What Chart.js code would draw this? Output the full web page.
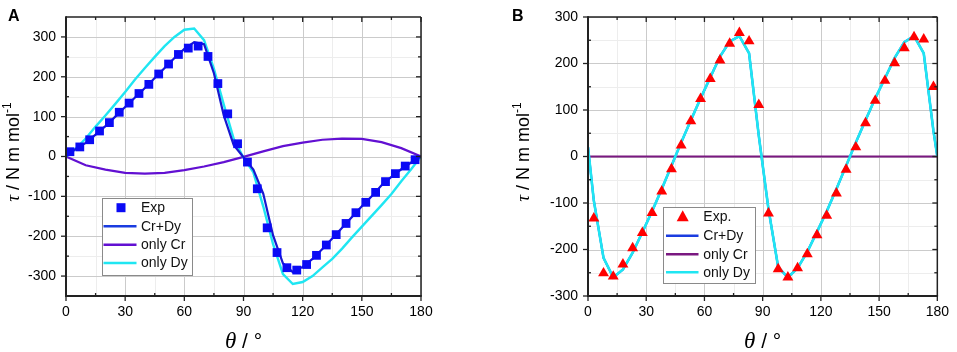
<!DOCTYPE html>
<html><head><meta charset="utf-8">
<script src="https://cdn.jsdelivr.net/npm/chart.js@4.4.1/dist/chart.umd.min.js"></script>
<style>
html,body{margin:0;padding:0;background:#fff;}
#wrap{position:relative;width:957px;height:352px;overflow:hidden;background:#fff;}
#ca{position:absolute;left:0;top:0;width:478px;height:352px;}
#cb{position:absolute;left:478px;top:0;width:479px;height:352px;}
</style></head><body>
<div id="wrap"><canvas id="ca" width="478" height="352"></canvas><canvas id="cb" width="479" height="352"></canvas></div>
<script>
// ---------- Panel A data ----------
const expA_theta = [2,7,12,17,22,27,32,37,42,47,52,57,62,67,72,77,82,87,92,97,102,107,112,117,122,127,132,137,142,147,152,157,162,167,172,177];
const expA_tau   = [12,24,42,64,85,111,134,158,181,207,232,256,272,277,251,183,107,32,-14,-81,-179,-241,-279,-285,-271,-248,-222,-196,-168,-141,-115,-90,-63,-43,-24,-8];
const fitA_theta = [0,5,10,15,20,25,30,35,40,45,50,55,60,65,70,75,80,85,90,95,100,105,110,115,120,125,130,135,140,145,150,155,160,165,170,175,180];
const crDyA_tau  = [0,19,34,55,76,100,124,148,172,197,222,247,270,287,282,209,103,29,-2,-33,-93,-198,-268,-290,-277,-257,-232,-206,-179,-152,-125,-100,-72,-51,-32,-15,0];
const onlyDyA_tau= [0,20,45,75,103,132,162,193,222,250,277,300,318,321,292,220,130,45,-3,-40,-125,-220,-295,-320,-315,-300,-278,-257,-231,-203,-176,-149,-122,-94,-62,-32,0];
const onlyCrA_theta = [0,10,20,30,40,50,60,70,80,90,100,110,120,130,140,150,160,170,180];
const onlyCrA_tau   = [0,-22,-33,-41,-43,-41,-34,-25,-14,-1,13,26,35,42,45,44,36,21,0];

// ---------- Panel B data ----------
const expB_theta = [3,8,13,18,23,28,33,38,43,48,53,58,63,68,73,78,83,88,93,98,103,108,113,118,123,128,133,138,143,148,153,158,163,168,173,178];
const expB_tau   = [-133,-251,-258,-232,-197,-164,-121,-75,-27,24,76,124,167,207,243,266,248,111,-122,-242,-260,-240,-210,-169,-127,-79,-28,20,72,120,163,201,233,257,252,150];
const fitB_theta = [0,3,8,13,18,23,28,33,38,43,48,53,58,63,68,73,78,83,88,93,98,103,108,113,118,123,128,133,138,143,148,153,158,163,168,173,178,180];
const crDyB_tau  = [20,-95,-218,-260,-243,-207,-163,-118,-70,-20,30,78,125,170,215,247,259,222,45,-113,-238,-260,-240,-205,-162,-118,-70,-20,30,78,125,168,212,246,259,222,55,0];
const onlyDyB_tau= [20,-95,-218,-260,-243,-207,-163,-118,-70,-20,30,78,125,170,215,247,259,222,45,-113,-238,-260,-240,-205,-162,-118,-70,-20,30,78,125,168,212,246,259,222,55,0];
const onlyCrB_theta = [0,180];
const onlyCrB_tau   = [0,0];

// ---------- ticks ----------
const xTickLabels = [0,30,60,90,120,150,180];
const xMinorTicks = [15,45,75,105,135,165];
const yTickLabelsA = [-300,-200,-100,0,100,200,300];
const yMinorA = [-250,-150,-50,50,150,250];
const yTickLabelsB = [-300,-200,-100,0,100,200,300];
const yMinorB = [-250,-150,-50,50,150,250];

const SANS = "'Liberation Sans', Arial, Helvetica, sans-serif";
const SERIF = "'Liberation Serif', 'Times New Roman', serif";
Chart.defaults.font.family = SANS;
Chart.defaults.color = '#000';

const pts = (xs, ys) => xs.map((x, i) => ({x: x, y: ys[i]}));

function makePlugin(conf) {
  function ln(ctx, x1, y1, x2, y2) { ctx.beginPath(); ctx.moveTo(x1, y1); ctx.lineTo(x2, y2); ctx.stroke(); }
  return {
    id: 'frame_' + conf.letter,
    beforeDatasetsDraw(chart) {
      const {ctx, chartArea: a, scales} = chart;
      const x = scales.x, y = scales.y;
      ctx.save();
      ctx.lineWidth = 1;
      ctx.strokeStyle = '#ededed';
      xMinorTicks.forEach(v => { const p = Math.round(x.getPixelForValue(v)) + 0.5; ln(ctx, p, a.top, p, a.bottom); });
      conf.yMinor.forEach(v => { const p = Math.round(y.getPixelForValue(v)) + 0.5; ln(ctx, a.left, p, a.right, p); });
      ctx.strokeStyle = '#cbcbcb';
      xTickLabels.forEach(v => { const p = Math.round(x.getPixelForValue(v)) + 0.5; ln(ctx, p, a.top, p, a.bottom); });
      conf.yMajor.forEach(v => { const p = Math.round(y.getPixelForValue(v)) + 0.5; ln(ctx, a.left, p, a.right, p); });
      ctx.restore();
    },
    afterDatasetsDraw(chart) {
      const {ctx, chartArea: a, scales} = chart;
      const x = scales.x, y = scales.y;
      ctx.save();
      ctx.strokeStyle = '#222';
      ctx.lineWidth = 1.5;
      ln(ctx, a.left, a.top, a.right, a.top);
      ln(ctx, a.right, a.top, a.right, a.bottom);
      ctx.lineWidth = 2;
      ln(ctx, a.left, a.top - 0.75, a.left, a.bottom + 1);
      ln(ctx, a.left - 1, a.bottom, a.right + 0.75, a.bottom);
      ctx.lineWidth = 1.3;
      xTickLabels.forEach(v => {
        const p = x.getPixelForValue(v);
        ln(ctx, p, a.bottom, p, a.bottom + 5);
        ln(ctx, p, a.top, p, a.top + 5);
      });
      xMinorTicks.forEach(v => {
        const p = x.getPixelForValue(v);
        ln(ctx, p, a.bottom, p, a.bottom - 3);
        ln(ctx, p, a.top, p, a.top + 3);
      });
      conf.yMajor.forEach(v => {
        const p = y.getPixelForValue(v);
        ln(ctx, a.left, p, a.left - 5, p);
        ln(ctx, a.right, p, a.right - 5, p);
      });
      conf.yMinor.forEach(v => {
        const p = y.getPixelForValue(v);
        ln(ctx, a.left, p, a.left + 3, p);
        ln(ctx, a.right, p, a.right - 3, p);
      });
      ctx.restore();
    },
    afterDraw(chart) {
      const ctx = chart.ctx;
      ctx.save();
      ctx.fillStyle = '#000';
      ctx.font = 'bold 16px ' + SANS;
      ctx.textBaseline = 'alphabetic';
      ctx.textAlign = 'left';
      ctx.fillText(conf.letter, conf.letterX, 21);
      // y title
      ctx.save();
      ctx.translate(conf.yTitleX, 152);
      ctx.rotate(-Math.PI / 2);
      const f1 = 'italic 19px ' + SERIF, f2 = '18px ' + SANS, f3 = '12px ' + SANS;
      ctx.font = f1; const w1 = ctx.measureText('\u03c4').width;
      ctx.font = f2; const w2 = ctx.measureText(' / N m mol').width;
      ctx.font = f3; const w3 = ctx.measureText('-1').width;
      let sx = -(w1 + w2 + w3) / 2;
      ctx.font = f1; ctx.fillText('\u03c4', sx, 6.5); sx += w1;
      ctx.font = f2; ctx.fillText(' / N m mol', sx, 6.5); sx += w2;
      ctx.font = f3; ctx.fillText('-1', sx, -1);
      ctx.restore();
      // x title
      const a = chart.chartArea;
      const cx = (a.left + a.right) / 2;
      const g1 = 'italic 23px ' + SERIF, g2 = '21px ' + SANS;
      ctx.font = g1; const v1 = ctx.measureText('\u03b8').width;
      ctx.font = g2; const v2 = ctx.measureText(' / \u00b0').width;
      let tx = cx - (v1 + v2) / 2;
      ctx.font = g1; ctx.fillText('\u03b8', tx, 348); tx += v1;
      ctx.font = g2; ctx.fillText(' / \u00b0', tx, 348);
      // legend
      const L = conf.legend;
      ctx.fillStyle = '#fff';
      ctx.fillRect(L.x, L.y, L.w, L.h);
      ctx.strokeStyle = '#8a8a8a';
      ctx.lineWidth = 1;
      ctx.strokeRect(L.x + 0.5, L.y + 0.5, L.w, L.h);
      ctx.font = '14px ' + SANS;
      ctx.textBaseline = 'middle';
      L.items.forEach((it, i) => {
        const yy = L.rows[i];
        if (it.kind === 'line') {
          ctx.strokeStyle = it.color; ctx.lineWidth = 2.5;
          ln(ctx, L.lx1, yy, L.lx2, yy);
        } else if (it.kind === 'rect') {
          ctx.fillStyle = it.color;
          ctx.fillRect(L.sx - 4.5, yy - 4.5, 9, 9);
        } else {
          ctx.fillStyle = it.color;
          ctx.beginPath();
          ctx.moveTo(L.sx, yy - 6.5); ctx.lineTo(L.sx + 6, yy + 4.5); ctx.lineTo(L.sx - 6, yy + 4.5);
          ctx.closePath(); ctx.fill();
        }
        ctx.fillStyle = '#111';
        ctx.fillText(it.label, L.tx, yy + 0.5);
      });
      ctx.restore();
    }
  };
}

function makeChart(id, conf) {
  return new Chart(document.getElementById(id), {
    type: 'scatter',
    data: { datasets: conf.datasets },
    options: {
      responsive: false,
      animation: false,
      devicePixelRatio: 1,
      layout: { padding: { left: 0, right: conf.padRight, top: 8, bottom: 0 } },
      plugins: { legend: { display: false }, tooltip: { enabled: false } },
      scales: {
        x: {
          type: 'linear', min: 0, max: 180,
          grid: { display: false, drawTicks: false },
          border: { display: false },
          ticks: {
            autoSkip: false, maxRotation: 0, padding: 8,
            font: { size: 14, family: SANS },
            callback: v => String(v)
          },
          afterBuildTicks: s => { s.ticks = xTickLabels.map(v => ({ value: v })); },
          afterFit: s => { s.height = 56; }
        },
        y: {
          type: 'linear', min: conf.yMin, max: conf.yMax,
          grid: { display: false, drawTicks: false },
          border: { display: false },
          ticks: {
            autoSkip: false, padding: 10,
            font: { size: 14, family: SANS, lineHeight: 1 },
            callback: v => String(v)
          },
          afterBuildTicks: s => { s.ticks = conf.yMajor.map(v => ({ value: v })); },
          afterFit: s => { s.width = conf.yWidth; }
        }
      }
    },
    plugins: [makePlugin(conf)]
  });
}

const lineDs = (label, xs, ys, color, w, order) => ({
  label: label, data: pts(xs, ys), showLine: true, borderColor: color, backgroundColor: color,
  borderWidth: w, pointRadius: 0, tension: 0, order: order
});

makeChart('ca', {
  letter: 'A', letterX: 8, yTitleX: 12,
  yMin: -350, yMax: 350, yMajor: yTickLabelsA, yMinor: yMinorA,
  padRight: 478 - 421, yWidth: 66,
  datasets: [
    { label: 'Exp', data: pts(expA_theta, expA_tau), showLine: false, pointStyle: 'rect', pointRadius: 6.2,
      pointBackgroundColor: '#0a0af5', pointBorderColor: '#0a0af5', pointBorderWidth: 0, order: 0 },
    lineDs('Cr+Dy', fitA_theta, crDyA_tau, '#1818d0', 2.2, 1),
    lineDs('only Dy', fitA_theta, onlyDyA_tau, '#1fe6f2', 2.4, 2),
    lineDs('only Cr', onlyCrA_theta, onlyCrA_tau, '#6210d2', 2.2, 3)
  ],
  legend: { x: 102, y: 198, w: 90, h: 77, rows: [207.7, 226.3, 244.7, 263], lx1: 103.5, lx2: 136.5, sx: 121, tx: 141,
    items: [
      { kind: 'rect', color: '#0a0af5', label: 'Exp' },
      { kind: 'line', color: '#1a3ce0', label: 'Cr+Dy' },
      { kind: 'line', color: '#6210d2', label: 'only Cr' },
      { kind: 'line', color: '#1fe6f2', label: 'only Dy' }
    ] }
});

makeChart('cb', {
  letter: 'B', letterX: 34, yTitleX: 44,
  yMin: -300, yMax: 300, yMajor: yTickLabelsB, yMinor: yMinorB,
  padRight: 479 - 465, yWidth: 110,
  datasets: [
    { label: 'Exp.', data: pts(expB_theta, expB_tau), showLine: false, pointStyle: 'triangle', pointRadius: 6.3,
      pointBackgroundColor: '#ff0000', pointBorderColor: '#ff0000', pointBorderWidth: 0, order: 0 },
    lineDs('only Dy', fitB_theta, onlyDyB_tau, '#1fe6f2', 2.6, 1),
    lineDs('Cr+Dy', fitB_theta, crDyB_tau, '#1a3ce0', 2.2, 2),
    lineDs('only Cr', onlyCrB_theta, onlyCrB_tau, '#7a1880', 2.2, 3)
  ],
  legend: { x: 663 - 478, y: 207, w: 92, h: 76, rows: [216.7, 235.7, 254.3, 272.3], lx1: 666 - 478, lx2: 698.5 - 478, sx: 682.7 - 478, tx: 703.3 - 478,
    items: [
      { kind: 'tri', color: '#ff0000', label: 'Exp.' },
      { kind: 'line', color: '#1a3ce0', label: 'Cr+Dy' },
      { kind: 'line', color: '#7a1880', label: 'only Cr' },
      { kind: 'line', color: '#1fe6f2', label: 'only Dy' }
    ] }
});
</script>
</body></html>
